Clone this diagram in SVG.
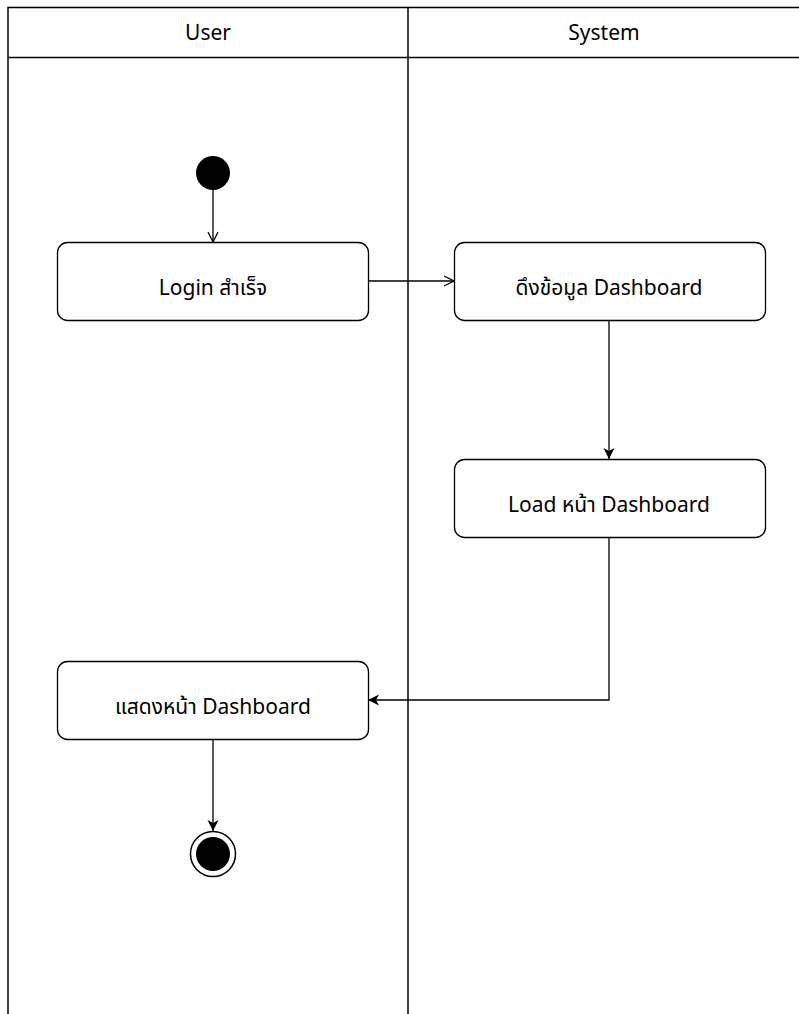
<svg xmlns="http://www.w3.org/2000/svg" width="799" height="1014" viewBox="0 0 799 1014">
<defs>
<style>
.lane{fill:none;stroke:#000;stroke-width:1.5}
.node{fill:#fff;stroke:#000;stroke-width:1.3}
.lbl{font-family:"Noto Sans","Noto Sans Thai","DejaVu Sans",sans-serif;font-size:21px;fill:#000;text-anchor:middle;dominant-baseline:central}
.edge{fill:none;stroke:#000;stroke-width:1.3}
</style>
<marker id="open" viewBox="0 0 12 12" refX="11" refY="6" markerWidth="12" markerHeight="12" markerUnits="userSpaceOnUse" orient="auto">
<path d="M1,1 L11,6 L1,11" fill="none" stroke="#000" stroke-width="1.3"/>
</marker>
<marker id="filled" viewBox="0 0 12 12" refX="11" refY="6" markerWidth="12" markerHeight="12" markerUnits="userSpaceOnUse" orient="auto">
<path d="M0,0.5 L11,6 L0,11.5 L3,6 Z" fill="#000"/>
</marker>
</defs>
<g id="swimlanes">
<rect x="0" y="0" width="799" height="1014" fill="#fff"/>
<path class="lane" d="M8,1014 V7.5 H800"/>
<path class="lane" d="M8,57.5 H800"/>
<path class="lane" d="M408,7.5 V1014"/>
<text class="lbl" x="208" y="32">User</text>
<text class="lbl" x="604" y="32">System</text>
</g>
<g id="connectors">
<path class="edge" d="M213,190 V242" marker-end="url(#open)"/>
<path class="edge" d="M368,281 H454" marker-end="url(#open)"/>
<path class="edge" d="M609,320 V459" marker-end="url(#filled)"/>
<path class="edge" d="M609,537 V700 H368" marker-end="url(#filled)"/>
<path class="edge" d="M213,739 V831" marker-end="url(#filled)"/>
</g>
<g id="start">
<circle cx="213" cy="173" r="17" fill="#000"/>
</g>
<g id="login">
<rect class="node" x="57.5" y="242.5" width="311" height="78" rx="10"/>
<text class="lbl" x="213" y="287">Login สำเร็จ</text>
</g>
<g id="fetch">
<rect class="node" x="454.5" y="242.5" width="311" height="78" rx="10"/>
<text class="lbl" x="609" y="287">ดึงข้อมูล Dashboard</text>
</g>
<g id="load">
<rect class="node" x="454.5" y="459.5" width="311" height="78" rx="10"/>
<text class="lbl" x="609" y="504">Load หน้า Dashboard</text>
</g>
<g id="show">
<rect class="node" x="57.5" y="661.5" width="311" height="78" rx="10"/>
<text class="lbl" x="213" y="706">แสดงหน้า Dashboard</text>
</g>
<g id="end">
<circle cx="213" cy="854" r="22.5" fill="#fff" stroke="#000" stroke-width="1.5"/>
<circle cx="213" cy="854" r="17" fill="#000"/>
</g>
</svg>
